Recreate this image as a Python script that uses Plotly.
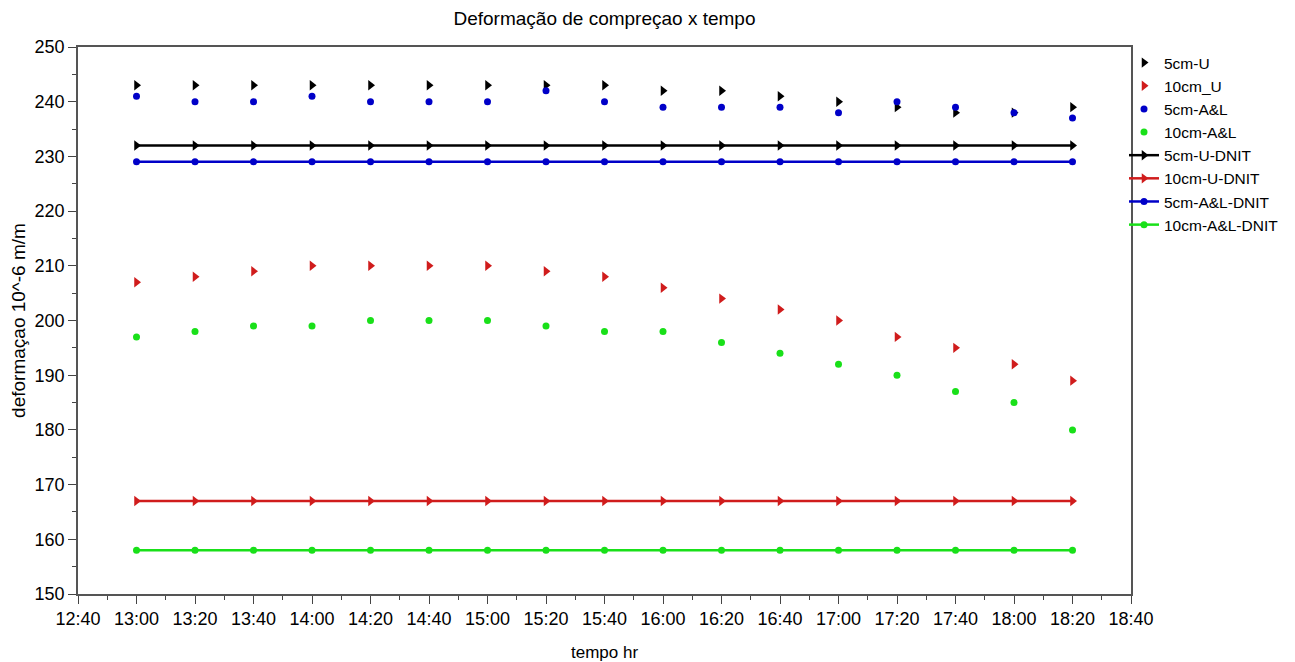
import plotly.graph_objects as go

times = ["13:00", "13:20", "13:40", "14:00", "14:20", "14:40", "15:00", "15:20", "15:40",
         "16:00", "16:20", "16:40", "17:00", "17:20", "17:40", "18:00", "18:20"]
u5 = [243, 243, 243, 243, 243, 243, 243, 243, 243, 242, 242, 241, 240, 239, 238, 238, 239]
u10 = [207, 208, 209, 210, 210, 210, 210, 209, 208, 206, 204, 202, 200, 197, 195, 192, 189]
al5 = [241, 240, 240, 241, 240, 240, 240, 242, 240, 239, 239, 239, 238, 240, 239, 238, 237]
al10 = [197, 198, 199, 199, 200, 200, 200, 199, 198, 198, 196, 194, 192, 190, 187, 185, 180]
u5_dnit = [232] * 17
u10_dnit = [167] * 17
al5_dnit = [229] * 17
al10_dnit = [158] * 17

x = ["2020-01-01 " + t for t in times]

BLACK = "#000000"
RED = "#d01c1c"
BLUE = "#0000c8"
GREEN = "#19e019"

FONT = "Liberation Sans, Arial, sans-serif"

fig = go.Figure()
series = [
    ("5cm-U", u5, BLACK, "triangle-right", "markers", 9),
    ("10cm_U", u10, RED, "triangle-right", "markers", 9),
    ("5cm-A&L", al5, BLUE, "circle", "markers", 7),
    ("10cm-A&L", al10, GREEN, "circle", "markers", 7),
    ("5cm-U-DNIT", u5_dnit, BLACK, "triangle-right", "lines+markers", 9),
    ("10cm-U-DNIT", u10_dnit, RED, "triangle-right", "lines+markers", 9),
    ("5cm-A&L-DNIT", al5_dnit, BLUE, "circle", "lines+markers", 7),
    ("10cm-A&L-DNIT", al10_dnit, GREEN, "circle", "lines+markers", 7),
]
for name, ys, col, sym, mode, sz in series:
    fig.add_trace(go.Scatter(
        x=x, y=ys, name=name, mode=mode,
        marker=dict(color=col, symbol=sym, size=sz, line=dict(width=0)),
        line=dict(color=col, width=2.5),
    ))

fig.update_layout(
    width=1295, height=662,
    margin=dict(l=78, r=164, t=47, b=68, autoexpand=False),
    paper_bgcolor="white", plot_bgcolor="white",
    font=dict(family=FONT, color="black", size=18),
    title=dict(text="Deformação de compreçao x tempo", x=(78 + 1131) / 2 / 1295, xanchor="center",
               y=1 - 18 / 662, yanchor="middle", font=dict(size=19, family=FONT)),
    legend=dict(xref="container", yref="container", x=1124 / 1295, y=1 - 46 / 662,
                xanchor="left", yanchor="top", font=dict(size=15.5, family=FONT),
                bgcolor="rgba(0,0,0,0)", tracegroupgap=0, itemwidth=30),
    showlegend=True,
)
fig.update_xaxes(
    type="date", range=["2020-01-01 12:40", "2020-01-01 18:40"],
    dtick=20 * 60 * 1000, tick0="2020-01-01 12:40", tickformat="%H:%M",
    ticks="outside", ticklen=8, tickcolor="#444", showgrid=False, zeroline=False,
    showline=True, linecolor="#555", linewidth=1.5, mirror=True, automargin=False,
    minor=dict(dtick=10 * 60 * 1000, ticks="outside", ticklen=4, tickcolor="#444", showgrid=False),
    title=dict(text="tempo hr", font=dict(size=17), standoff=18),
    tickfont=dict(size=18),
)
fig.update_yaxes(
    range=[150, 250], dtick=10, ticks="outside", ticklen=8, tickcolor="#444",
    showgrid=False, zeroline=False, showline=True, linecolor="#555", linewidth=1.5, mirror=True,
    automargin=False,
    minor=dict(dtick=5, ticks="outside", ticklen=4, tickcolor="#444", showgrid=False),
    title=dict(text="deformaçao 10^-6 m/m", font=dict(size=19), standoff=4),
    tickfont=dict(size=18),
)

fig.write_html("out.html")
